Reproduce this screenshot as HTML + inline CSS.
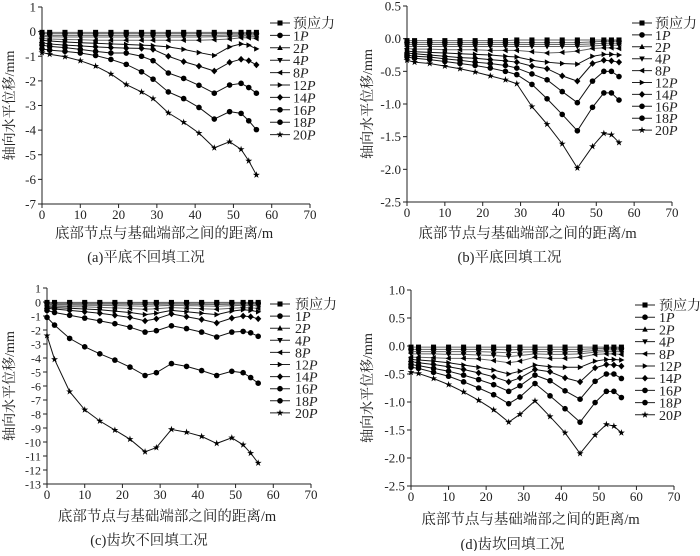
<!DOCTYPE html>
<html><head><meta charset="utf-8"><style>
html,body{margin:0;padding:0;background:#fff}
svg text{font-family:"Liberation Serif","Noto Serif CJK SC",serif;fill:#222}
</style></head><body>
<svg id="chart" width="700" height="551" viewBox="0 0 700 551" xmlns="http://www.w3.org/2000/svg"></svg>
<script>
const xs=[0,2,6,10,14,18,22,26,29,33,37,41,45,49,52,54,56];
const seriesNames=["预应力","1P","2P","4P","8P","12P","14P","16P","18P","20P"];
const markers=["square","circle","tup","tdown","tleft","tright","diamond","circle","circle","star"];
const xTicks=[0,10,20,30,40,50,60,70];
const aData=[
[-0.03,-0.03,-0.03,-0.03,-0.03,-0.03,-0.03,-0.03,-0.03,-0.03,-0.03,-0.03,-0.03,-0.03,-0.03,-0.03,-0.03],
[-0.08,-0.08,-0.08,-0.08,-0.08,-0.08,-0.08,-0.08,-0.08,-0.08,-0.08,-0.08,-0.08,-0.08,-0.08,-0.08,-0.08],
[-0.15,-0.15,-0.15,-0.15,-0.15,-0.15,-0.15,-0.15,-0.15,-0.15,-0.15,-0.15,-0.15,-0.14,-0.13,-0.13,-0.14],
[-0.2,-0.21,-0.22,-0.22,-0.22,-0.22,-0.22,-0.22,-0.22,-0.22,-0.22,-0.22,-0.21,-0.2,-0.18,-0.18,-0.2],
[-0.28,-0.3,-0.32,-0.33,-0.35,-0.35,-0.35,-0.35,-0.35,-0.35,-0.35,-0.35,-0.33,-0.3,-0.25,-0.25,-0.28],
[-0.35,-0.38,-0.42,-0.45,-0.47,-0.5,-0.52,-0.55,-0.57,-0.62,-0.72,-0.85,-0.97,-0.62,-0.5,-0.55,-0.7],
[-0.45,-0.5,-0.55,-0.58,-0.62,-0.65,-0.67,-0.68,-0.72,-1.0,-1.22,-1.4,-1.6,-1.25,-1.12,-1.18,-1.35],
[-0.55,-0.6,-0.65,-0.72,-0.8,-0.87,-0.87,-1.0,-1.18,-1.68,-1.9,-2.18,-2.5,-2.17,-2.1,-2.27,-2.5],
[-0.7,-0.75,-0.8,-0.87,-0.97,-1.13,-1.33,-1.63,-1.93,-2.45,-2.72,-3.08,-3.55,-3.25,-3.32,-3.62,-3.98],
[-0.85,-0.92,-1.02,-1.18,-1.4,-1.72,-2.15,-2.45,-2.72,-3.3,-3.68,-4.12,-4.72,-4.47,-4.78,-5.25,-5.82]];
const bData=[
[-0.03,-0.03,-0.03,-0.03,-0.03,-0.03,-0.03,-0.03,-0.02,-0.02,-0.02,-0.02,-0.02,-0.02,-0.02,-0.02,-0.02],
[-0.06,-0.06,-0.06,-0.06,-0.06,-0.06,-0.06,-0.06,-0.06,-0.06,-0.06,-0.06,-0.06,-0.05,-0.04,-0.04,-0.04],
[-0.09,-0.09,-0.09,-0.09,-0.09,-0.09,-0.09,-0.09,-0.09,-0.09,-0.09,-0.09,-0.09,-0.08,-0.07,-0.07,-0.07],
[-0.12,-0.12,-0.12,-0.12,-0.12,-0.12,-0.12,-0.12,-0.12,-0.12,-0.12,-0.12,-0.12,-0.11,-0.1,-0.1,-0.1],
[-0.15,-0.16,-0.16,-0.17,-0.17,-0.17,-0.18,-0.18,-0.18,-0.2,-0.22,-0.21,-0.19,-0.15,-0.14,-0.14,-0.15],
[-0.19,-0.2,-0.21,-0.22,-0.23,-0.24,-0.25,-0.27,-0.28,-0.33,-0.36,-0.38,-0.39,-0.27,-0.24,-0.24,-0.25],
[-0.22,-0.23,-0.25,-0.27,-0.29,-0.3,-0.32,-0.34,-0.36,-0.42,-0.46,-0.57,-0.65,-0.38,-0.33,-0.34,-0.36],
[-0.25,-0.27,-0.28,-0.31,-0.33,-0.36,-0.38,-0.41,-0.45,-0.54,-0.63,-0.81,-0.98,-0.65,-0.5,-0.5,-0.58],
[-0.28,-0.3,-0.32,-0.35,-0.38,-0.41,-0.45,-0.5,-0.55,-0.7,-0.92,-1.16,-1.41,-1.05,-0.83,-0.83,-0.94],
[-0.33,-0.36,-0.38,-0.42,-0.46,-0.51,-0.57,-0.63,-0.69,-1.04,-1.31,-1.61,-1.98,-1.65,-1.45,-1.47,-1.59]];
const cData=[
[-0.03,-0.03,-0.03,-0.03,-0.03,-0.03,-0.03,-0.03,-0.03,-0.03,-0.03,-0.03,-0.03,-0.03,-0.03,-0.03,-0.03],
[-0.08,-0.08,-0.08,-0.08,-0.08,-0.08,-0.08,-0.08,-0.08,-0.08,-0.08,-0.08,-0.08,-0.08,-0.08,-0.08,-0.08],
[-0.15,-0.15,-0.15,-0.15,-0.15,-0.15,-0.16,-0.17,-0.16,-0.15,-0.16,-0.17,-0.18,-0.16,-0.15,-0.15,-0.16],
[-0.2,-0.21,-0.22,-0.23,-0.24,-0.26,-0.28,-0.3,-0.28,-0.24,-0.26,-0.28,-0.3,-0.26,-0.24,-0.24,-0.26],
[-0.28,-0.3,-0.33,-0.35,-0.38,-0.42,-0.46,-0.52,-0.48,-0.4,-0.44,-0.48,-0.52,-0.45,-0.4,-0.42,-0.45],
[-0.35,-0.4,-0.45,-0.5,-0.55,-0.65,-0.75,-0.9,-0.8,-0.6,-0.7,-0.8,-0.9,-0.65,-0.55,-0.6,-0.7],
[-0.45,-0.5,-0.6,-0.7,-0.8,-0.95,-1.1,-1.35,-1.2,-0.85,-1.05,-1.25,-1.5,-1.15,-1.0,-1.05,-1.2],
[-0.6,-0.75,-0.95,-1.15,-1.35,-1.55,-1.8,-2.15,-2.05,-1.7,-1.9,-2.15,-2.5,-2.15,-2.1,-2.2,-2.45],
[-1.1,-1.65,-2.6,-3.2,-3.7,-4.15,-4.65,-5.25,-5.05,-4.4,-4.6,-4.9,-5.25,-4.95,-5.05,-5.4,-5.8],
[-2.4,-4.1,-6.4,-7.7,-8.5,-9.15,-9.8,-10.7,-10.4,-9.1,-9.3,-9.6,-10.1,-9.7,-10.2,-10.8,-11.5]];
const dData=[
[-0.02,-0.02,-0.02,-0.02,-0.02,-0.02,-0.02,-0.02,-0.02,-0.02,-0.02,-0.02,-0.02,-0.02,-0.02,-0.02,-0.02],
[-0.06,-0.06,-0.06,-0.06,-0.06,-0.06,-0.06,-0.07,-0.06,-0.06,-0.06,-0.06,-0.06,-0.05,-0.04,-0.04,-0.04],
[-0.1,-0.1,-0.1,-0.1,-0.1,-0.1,-0.11,-0.12,-0.11,-0.1,-0.1,-0.1,-0.1,-0.08,-0.07,-0.07,-0.07],
[-0.14,-0.14,-0.14,-0.15,-0.15,-0.16,-0.17,-0.19,-0.17,-0.14,-0.15,-0.15,-0.14,-0.11,-0.1,-0.1,-0.1],
[-0.2,-0.2,-0.21,-0.22,-0.22,-0.23,-0.26,-0.3,-0.27,-0.2,-0.22,-0.22,-0.2,-0.15,-0.14,-0.14,-0.15],
[-0.24,-0.25,-0.27,-0.3,-0.34,-0.38,-0.43,-0.5,-0.45,-0.34,-0.37,-0.38,-0.38,-0.27,-0.24,-0.24,-0.25],
[-0.28,-0.3,-0.33,-0.37,-0.42,-0.48,-0.55,-0.64,-0.57,-0.42,-0.46,-0.57,-0.64,-0.39,-0.33,-0.34,-0.36],
[-0.33,-0.35,-0.4,-0.45,-0.52,-0.6,-0.69,-0.81,-0.71,-0.52,-0.62,-0.8,-0.95,-0.63,-0.5,-0.5,-0.58],
[-0.38,-0.4,-0.47,-0.54,-0.64,-0.75,-0.87,-1.03,-0.91,-0.67,-0.89,-1.12,-1.36,-1.01,-0.81,-0.81,-0.92],
[-0.47,-0.49,-0.58,-0.69,-0.82,-0.97,-1.14,-1.36,-1.22,-0.98,-1.26,-1.55,-1.92,-1.59,-1.4,-1.43,-1.55]];
const aYTicks=[1,0,-1,-2,-3,-4,-5,-6,-7];
const bYTicks=[0.5,0,-0.5,-1,-1.5,-2,-2.5];
const cYTicks=[1,0,-1,-2,-3,-4,-5,-6,-7,-8,-9,-10,-11,-12,-13];
const dYTicks=[1,0.5,0,-0.5,-1,-1.5,-2,-2.5];

const NS="http://www.w3.org/2000/svg";
const svg=document.getElementById('chart');
function mk(tag,attrs,parent,txt){const e=document.createElementNS(NS,tag);for(const k in attrs)e.setAttribute(k,attrs[k]);if(txt!=null)e.textContent=txt;parent.appendChild(e);return e;}
function marker(g,type,cx,cy,r){
  let e;
  if(type==="square"){e=mk('rect',{x:cx-r*0.9,y:cy-r*0.9,width:r*1.8,height:r*1.8,fill:'#000'},g);}
  else if(type==="circle"){e=mk('circle',{cx:cx,cy:cy,r:r,fill:'#000'},g);}
  else{
    let pts;
    if(type==="tup")pts=[[0,-1.1],[1,0.8],[-1,0.8]];
    else if(type==="tdown")pts=[[0,1.1],[1,-0.8],[-1,-0.8]];
    else if(type==="tleft")pts=[[-1.1,0],[0.8,-1],[0.8,1]];
    else if(type==="tright")pts=[[1.1,0],[-0.8,-1],[-0.8,1]];
    else if(type==="diamond")pts=[[0,-1.2],[1.1,0],[0,1.2],[-1.1,0]];
    else {pts=[];for(let i=0;i<10;i++){const a=-Math.PI/2+i*Math.PI/5;const rr=i%2?0.5:1.3;pts.push([rr*Math.cos(a),rr*Math.sin(a)]);}}
    e=mk('polygon',{points:pts.map(p=>(cx+p[0]*r)+','+(cy+p[1]*r)).join(' '),fill:'#000'},g);
  }
  return e;
}
function panel(cfg){
  const g=mk('g',{},svg);
  
  
  const ymin=cfg.yTicks[cfg.yTicks.length-1],ymax=cfg.yTicks[0];
  const X=v=>cfg.x0+(v-0)/70*(cfg.x1-cfg.x0);
  const Y=v=>cfg.yTop+(ymax-v)/(ymax-ymin)*(cfg.yBot-cfg.yTop);
  const ax=mk('g',{stroke:'#222','stroke-width':1},g);
  
  
  mk('line',{x1:cfg.x0,y1:cfg.yTop,x2:cfg.x0,y2:cfg.yBot},ax);
  mk('line',{x1:cfg.x0,y1:cfg.yBot,x2:cfg.x1,y2:cfg.yBot},ax);
  cfg.yTicks.forEach(t=>{const y=Y(t);mk('line',{x1:cfg.x0-4,y1:y,x2:cfg.x0,y2:y},ax);
    const tl=mk('text',{x:cfg.x0-6,y:y+4.5,'text-anchor':'end','font-size':cfg.fs},g,cfg.dec?t.toFixed(1):String(t));
    });
  xTicks.forEach(t=>{const x=X(t);mk('line',{x1:x,y1:cfg.yBot,x2:x,y2:cfg.yBot+4},ax);
    const tl=mk('text',{x:x,y:cfg.yBot+15,'text-anchor':'middle','font-size':13},g,String(t));
    });
  const yt=mk('text',{x:0,y:0,transform:`translate(${cfg.ytx},${(cfg.yTop+cfg.yBot)/2}) rotate(-90)`,'text-anchor':'middle','font-size':14},g,'轴向水平位移/mm');
  
  const xt=mk('text',{x:(cfg.x0+cfg.x1)/2-12,y:cfg.xty,'text-anchor':'middle','font-size':14.5},g,'底部节点与基础端部之间的距离/m');
  
  const cp=mk('text',{x:(cfg.x0+cfg.x1)/2-30,y:cfg.capy,'text-anchor':'middle','font-size':14.5},g,cfg.caption);
  
  cfg.data.forEach((s,i)=>{
    const sg=mk('g',{},g);
    
    
    const col=i<5?'#666':'#111';
    mk('polyline',{points:s.map((v,j)=>X(xs[j])+','+Y(v)).join(' '),fill:'none',stroke:col,'stroke-width':1},sg);
    s.forEach((v,j)=>{const m=marker(sg,markers[i],X(xs[j]),Y(v),2.8);
      
      });
    const ly=cfg.legY+i*cfg.legDy;
    const lg=mk('g',{},g);
    
    
    mk('line',{x1:cfg.legX,y1:ly,x2:cfg.legX+20,y2:ly,stroke:'#222','stroke-width':1},lg);
    marker(lg,markers[i],cfg.legX+10,ly,2.8);
    const lt=mk('text',{x:cfg.legX+cfg.legTx,y:ly+5,'font-size':14},lg);
    const nm=seriesNames[i];
    if(nm.endsWith('P')){lt.textContent=nm.slice(0,-1);mk('tspan',{'font-style':'italic'},lt,'P');}
    else lt.textContent=nm;
  });
}
panel({name:'panel-a',data:aData,yTicks:aYTicks,dec:false,fs:13,x0:42,x1:310,yTop:7,yBot:204,ytx:14,xty:238,capy:262,caption:'(a)平底不回填工况',legX:270,legTx:23,legY:23,legDy:12.4});
panel({name:'panel-b',data:bData,yTicks:bYTicks,dec:true,fs:13,x0:407,x1:672,yTop:6,yBot:202,ytx:372,xty:238,capy:262,caption:'(b)平底回填工况',legX:632,legTx:23,legY:23,legDy:11.9});
panel({name:'panel-c',data:cData,yTicks:cYTicks,dec:false,fs:12,x0:47,x1:311,yTop:288,yBot:484,ytx:14,xty:521,capy:545,caption:'(c)齿坎不回填工况',legX:270,legTx:25,legY:304,legDy:12.1});
panel({name:'panel-d',data:dData,yTicks:dYTicks,dec:true,fs:13,x0:411,x1:674,yTop:290,yBot:486,ytx:372,xty:524,capy:549,caption:'(d)齿坎回填工况',legX:635,legTx:24,legY:305,legDy:12.2});
</script>
</body></html>
